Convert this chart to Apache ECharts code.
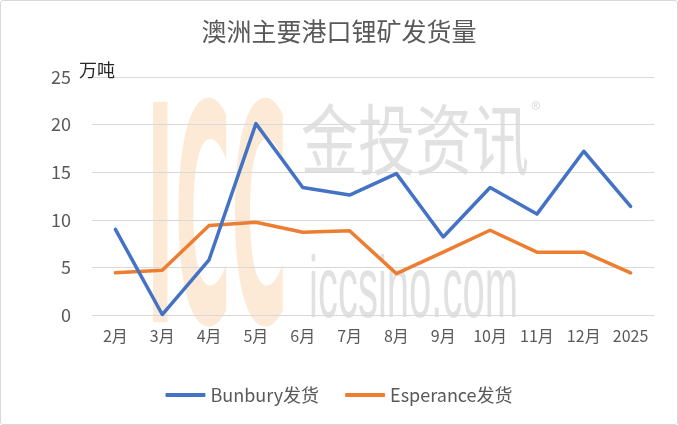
<!DOCTYPE html>
<html><head><meta charset="utf-8">
<script src="https://cdn.jsdelivr.net/npm/echarts@6/dist/echarts.min.js"></script>
<style>html,body{margin:0;padding:0;background:#fff}#c{width:676px;height:423px;border:1px solid #d9d9d9;border-radius:3px}</style>
</head><body><div id="c"></div>
<script>
var categories = ['2月','3月','4月','5月','6月','7月','8月','9月','10月','11月','12月','2025'];
var bunbury = [9.0, 0.05, 5.8, 20.1, 13.4, 12.6, 14.85, 8.2, 13.4, 10.6, 17.2, 11.4];
var esperance = [4.43, 4.7, 9.4, 9.75, 8.7, 8.85, 4.35, 6.6, 8.9, 6.6, 6.6, 4.43];
var seriesNames = ['Bunbury发货', 'Esperance发货'];
var yTicks = {min: 0, max: 25, interval: 5};
var FONT = '"Noto Sans CJK SC", "Noto Sans", sans-serif';
var chart = echarts.init(document.getElementById('c'));
chart.setOption({
  animation: false,
  textStyle: {fontFamily: FONT},
  title: {text: '澳洲主要港口锂矿发货量', left: 'center', top: 13,
    textStyle: {fontFamily: FONT, fontSize: 25, fontWeight: 'normal', color: '#595959'}},
  graphic: [
    {type: 'text', x: 145, y: 394, z: 0, silent: true, scaleX: 0.7, scaleY: 2.75,
      style: {text: 'ICC', fontFamily: '"DejaVu Sans", sans-serif', fontWeight: 'bold', fontSize: 110, verticalAlign: 'bottom', fill: 'rgba(248,200,150,0.38)'}},
    {type: 'text', x: 300, y: 100, z: 0, silent: true, scaleY: 1.35,
      style: {text: '金投资讯', fontFamily: FONT, fontSize: 57, fill: 'rgba(140,140,140,0.26)'}},
    {type: 'text', x: 530, y: 98, z: 0, silent: true,
      style: {text: '®', fontFamily: FONT, fontSize: 20, fill: 'rgba(140,140,140,0.3)'}},
    {type: 'text', x: 308, y: 336, z: 0, silent: true, scaleY: 2.2,
      style: {text: 'iccsino.com', fontFamily: '"Liberation Sans", sans-serif', fontSize: 40, verticalAlign: 'bottom', fill: 'rgba(140,140,140,0.26)'}}
  ],
  legend: {top: 380, left: 'center', itemWidth: 40, itemHeight: 4, itemGap: 26, icon: 'roundRect',
    textStyle: {fontFamily: FONT, fontSize: 18, color: '#595959'}, data: seriesNames},
  grid: {left: 91, right: 23, top: 76, bottom: 109},
  xAxis: {type: 'category', data: categories, boundaryGap: true,
    axisLine: {show: false}, axisTick: {show: false},
    axisLabel: {color: '#595959', fontSize: 16, margin: 13, fontFamily: FONT}},
  yAxis: {type: 'value', min: yTicks.min, max: yTicks.max, interval: yTicks.interval,
    name: '万吨', nameLocation: 'end', nameGap: 0,
    nameTextStyle: {color: '#262626', fontSize: 18, align: 'left', verticalAlign: 'bottom', backgroundColor: '#fff', padding: [0, 0, -2, -13], fontFamily: FONT},
    axisLine: {show: false}, axisTick: {show: false},
    axisLabel: {color: '#595959', fontSize: 18, margin: 21, fontFamily: FONT},
    splitLine: {lineStyle: {color: '#d9d9d9', width: 1}}},
  series: [
    {name: seriesNames[0], type: 'line', data: bunbury, symbol: 'none', z: 3,
      lineStyle: {color: '#4472C4', width: 3.5, join: 'round', cap: 'round'}, itemStyle: {color: '#4472C4'}},
    {name: seriesNames[1], type: 'line', data: esperance, symbol: 'none', z: 2,
      lineStyle: {color: '#ED7D31', width: 3.5, join: 'round', cap: 'round'}, itemStyle: {color: '#ED7D31'}}
  ]
});
</script></body></html>
